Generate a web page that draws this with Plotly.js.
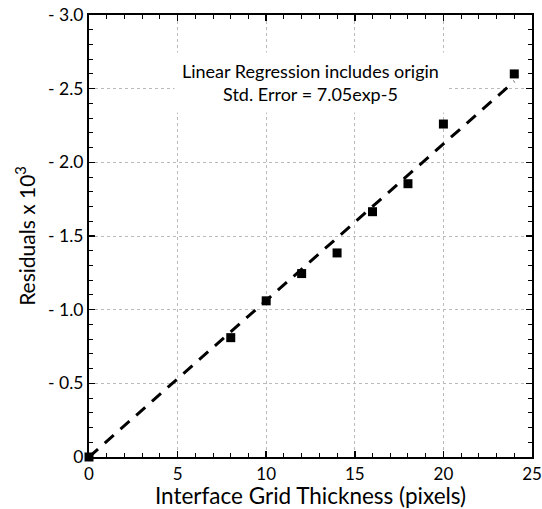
<!DOCTYPE html>
<html>
<head>
<meta charset="utf-8">
<script src="https://cdn.plot.ly/plotly-3.0.1.min.js"></script>
<style>html,body{margin:0;padding:0;background:#fff;}#chart{width:542px;height:509px;}</style>
</head>
<body>
<div id="chart"></div>
<script>
// Data
const thickness = [0, 8, 10, 12, 14, 16, 18, 20, 24];
const residuals = [0, -0.81, -1.06, -1.245, -1.385, -1.665, -1.855, -2.26, -2.60];
const fitX = [0, 24];
const fitY = [0, -2.55];
const xTickVals = [0, 5, 10, 15, 20, 25];
const xTickText = ['0', '5', '10', '15', '20', '25'];
const yTickVals = [0, -0.5, -1.0, -1.5, -2.0, -2.5, -3.0];
const yTickText = ['0', '- 0.5', '- 1.0', '- 1.5', '- 2.0', '- 2.5', '- 3.0'];
const noteText = 'Linear Regression includes origin<br>Std. Error = 7.05exp-5';

const FONT = 'Lato, "Open Sans", sans-serif';

const traces = [
  {
    x: fitX, y: fitY, type: 'scatter', mode: 'lines',
    line: {color: '#000', width: 3, dash: '12px,9px'},
    hoverinfo: 'skip', showlegend: false
  },
  {
    x: thickness, y: residuals, type: 'scatter', mode: 'markers',
    marker: {symbol: 'square', size: 9, color: '#000'},
    showlegend: false, cliponaxis: false
  }
];

const axisCommon = {
  showline: true, linecolor: '#000', linewidth: 2, mirror: 'allticks',
  ticks: 'inside', ticklen: 6, tickwidth: 1.5, tickcolor: '#000',
  showgrid: true, gridcolor: '#bbbbbb', griddash: 'dot', gridwidth: 1,
  zeroline: false, ticklabeloverflow: 'allow',
  tickfont: {family: FONT, size: 17.5, color: '#000'}
};

const layout = {
  width: 542, height: 509,
  margin: {l: 89, r: 10, t: 15, b: 52},
  paper_bgcolor: '#fff', plot_bgcolor: '#fff',
  font: {family: FONT, color: '#000'},
  xaxis: Object.assign({}, axisCommon, {
    range: [0, 25], tickmode: 'array', tickvals: xTickVals, ticktext: xTickText,
    minor: {dtick: 1, ticks: 'inside', ticklen: 4, tickcolor: '#000', tickwidth: 1, showgrid: false},
    ticklabelstandoff: 1,
    tickfont: {family: FONT, size: 17, color: '#000'},
    title: {text: 'Interface Grid Thickness (pixels)', font: {family: FONT, size: 22.5, color: '#000'}, standoff: 6}
  }),
  yaxis: Object.assign({}, axisCommon, {
    range: [0, -3.0], tickmode: 'array', tickvals: yTickVals, ticktext: yTickText,
    minor: {dtick: 0.1, tick0: 0, ticks: 'inside', ticklen: 4, tickcolor: '#000', tickwidth: 1, showgrid: false},
    title: {text: 'Residuals x 10<sup>3</sup>', font: {family: FONT, size: 21, color: '#000'}, standoff: 7}
  }),
  annotations: [{
    xref: 'x', yref: 'y', x: 12.5, y: -2.54,
    text: noteText, showarrow: false, align: 'center',
    font: {family: FONT, size: 18, color: '#000'},
    bgcolor: '#fff', borderpad: 7
  }]
};

Plotly.newPlot('chart', traces, layout, {displayModeBar: false, staticPlot: true});
</script>
</body>
</html>
